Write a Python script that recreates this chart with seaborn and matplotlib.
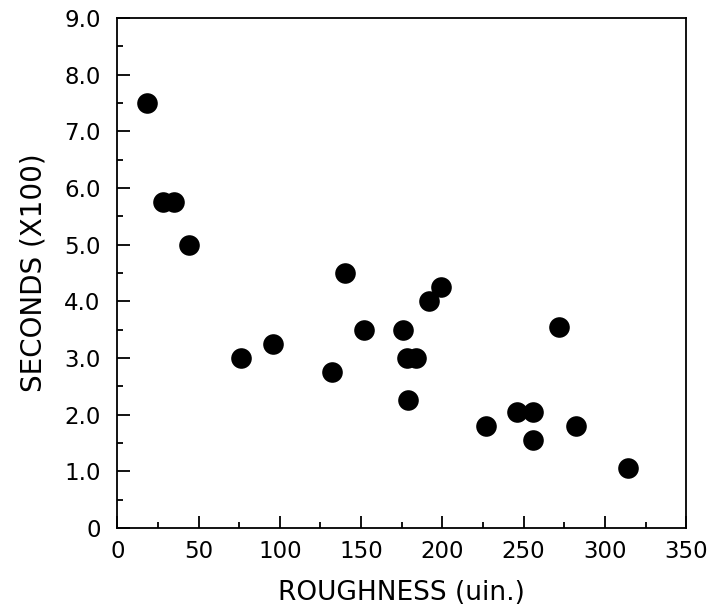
import matplotlib
matplotlib.use("Agg")
import matplotlib.pyplot as plt
import seaborn as sns
import pandas as pd
from matplotlib.ticker import MultipleLocator, FixedLocator

roughness = [18, 28, 35, 44, 76, 96, 132, 140, 152, 176, 178, 184, 179, 192, 199,
             227, 246, 256, 256, 272, 282, 314]
seconds = [7.5, 5.75, 5.75, 5.0, 3.0, 3.25, 2.75, 4.5, 3.5, 3.5, 3.0, 3.0, 2.25, 4.0, 4.25,
           1.8, 2.05, 2.05, 1.55, 3.55, 1.8, 1.05]
x_ticks = [0, 50, 100, 150, 200, 250, 300, 350]
y_ticks = [0, 1, 2, 3, 4, 5, 6, 7, 8, 9]
y_tick_labels = ["0", "1.0", "2.0", "3.0", "4.0", "5.0", "6.0", "7.0", "8.0", "9.0"]

sns.set_theme(style="ticks")
plt.rcParams['font.family'] = ['DejaVu Sans']

df = pd.DataFrame({"ROUGHNESS": roughness, "SECONDS": seconds})

fig = plt.figure(figsize=(7.14, 6.16), dpi=100)
ax = fig.add_axes([0.1643, 0.143, 0.7967, 0.828])
sns.scatterplot(data=df, x="ROUGHNESS", y="SECONDS", ax=ax, color="black",
                s=220, edgecolor="black", linewidth=0, legend=False)

ax.set_xlim(0, 350)
ax.set_ylim(0, 9)
ax.xaxis.set_major_locator(FixedLocator(x_ticks))
ax.xaxis.set_minor_locator(MultipleLocator(25))
ax.yaxis.set_major_locator(FixedLocator(y_ticks))
ax.set_yticklabels(y_tick_labels)
ax.yaxis.set_minor_locator(MultipleLocator(0.5))

for s in ax.spines.values():
    s.set_visible(True)
    s.set_linewidth(1.3)
    s.set_color("black")

ax.tick_params(which="major", direction="in", length=9, width=1.3, color="black",
               labelsize=16.5, labelcolor="black")
ax.tick_params(which="minor", direction="in", length=4.5, width=1.3, color="black")
ax.tick_params(axis="x", which="both", top=False, pad=9)
ax.tick_params(axis="y", which="both", right=False, pad=12)

ax.set_xlabel("ROUGHNESS (uin.)", fontsize=19, color="black", labelpad=12)
ax.set_ylabel("SECONDS (X100)", fontsize=20, color="black", labelpad=12)

fig.savefig("out.png", dpi=100)
